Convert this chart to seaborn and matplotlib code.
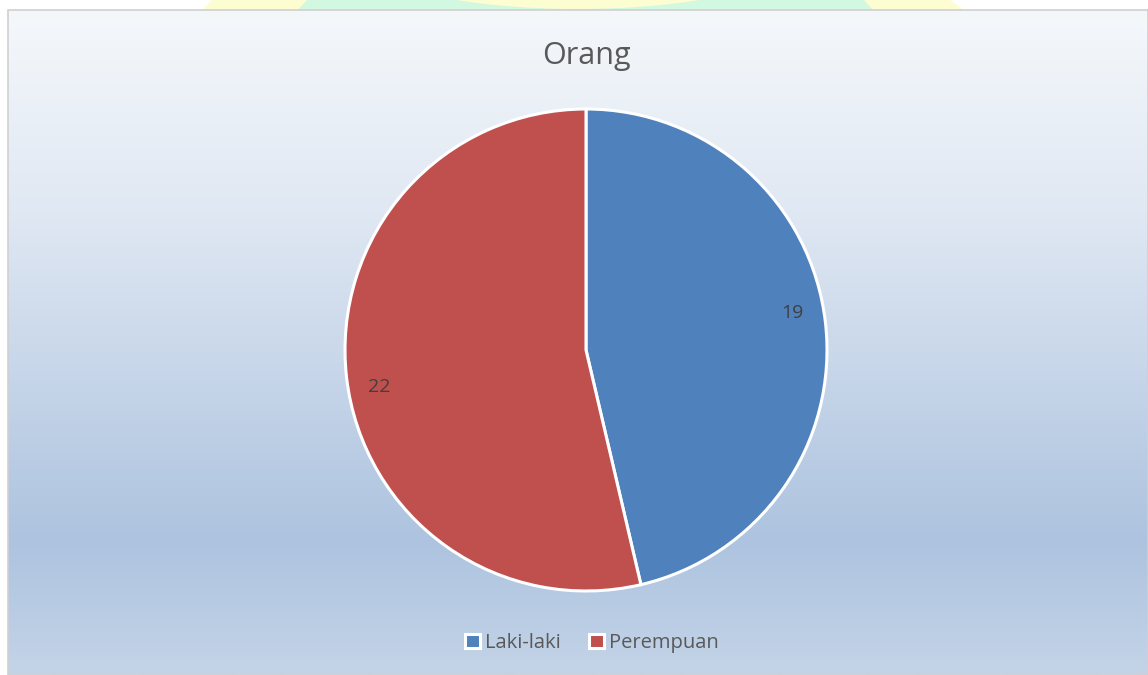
import numpy as np
import matplotlib
matplotlib.use("Agg")
import matplotlib.pyplot as plt
from matplotlib.colors import LinearSegmentedColormap
from matplotlib.patches import Polygon, Ellipse, Rectangle
import seaborn as sns

# data
categories = ["Laki-laki", "Perempuan"]
values = [19, 22]
title = "Orang"
colors = ["#4f81bd", "#c0504d"]

sns.set_style("white")
plt.rcParams["font.family"] = ["Open Sans", "DejaVu Sans"]

W, H = 1148, 675
fig = plt.figure(figsize=(W / 100, H / 100), dpi=100)
fig.patch.set_facecolor("white")

# background layer in pixel coords (y down)
bg = fig.add_axes([0, 0, 1, 1])
bg.set_xlim(0, W)
bg.set_ylim(H, 0)
bg.axis("off")

# logo watermark peeking above the chart box
bg.add_patch(Polygon([(201, 12), (212, 0), (950, 0), (966, 12)], closed=True,
                     facecolor="#fdfdd2", edgecolor="none", zorder=0))
bg.add_patch(Polygon([(296, 12), (307, 0), (864, 0), (875, 12)], closed=True,
                     facecolor="#d2f8e2", edgecolor="none", zorder=1))
bg.add_patch(Ellipse((578, -40), 420, 98, facecolor="#fdfdd2", edgecolor="none", zorder=2))

# chart area with vertical gradient
grad = LinearSegmentedColormap.from_list(
    "bg", [(0.0, "#f5f8fb"), (0.30, "#e0e8f3"), (0.80, "#adc3df"), (1.0, "#c4d4e8")])
g = np.linspace(0, 1, 256).reshape(-1, 1)
bg.imshow(g, cmap=grad, aspect="auto", extent=(8, W, H, 10), zorder=3,
          interpolation="bilinear")
bg.add_patch(Rectangle((8, 10), W - 8, H - 10, fill=False, edgecolor="#d0d0d0",
                       linewidth=1.2, zorder=4))

# pie
cx, cy, r = 586, 350, 241
ax = fig.add_axes([(cx - r) / W, (H - cy - r) / H, 2 * r / W, 2 * r / H])
ax.set_facecolor("none")
total = sum(values)
wedges, texts, autotexts = ax.pie(
    values, colors=colors, startangle=90, counterclock=False,
    autopct=lambda p: f"{round(p * total / 100)}", pctdistance=0.87,
    wedgeprops=dict(edgecolor="white", linewidth=2.2),
    textprops=dict(color="#404040", fontsize=14))
ax.set_xlim(-1.0, 1.0)
ax.set_ylim(-1.0, 1.0)
ax.set_aspect("equal")

# best-fit style label placement: nudge each label a bit counterclockwise
for w, t in zip(wedges, autotexts):
    ang = np.deg2rad((w.theta1 + w.theta2) / 2 + 3.5)
    t.set_position((0.87 * np.cos(ang), 0.87 * np.sin(ang)))

fig.text(586 / W, 1 - 56 / H, title, ha="center", va="center",
         fontsize=22, color="#595959")

fig.legend(wedges, categories, loc="center", bbox_to_anchor=(592 / W, 1 - 643 / H),
           ncol=2, frameon=False, fontsize=14.5, labelcolor="#595959",
           handlelength=0.75, handleheight=0.75, handletextpad=0.25,
           columnspacing=1.4)

fig.savefig("out.png", dpi=100)
